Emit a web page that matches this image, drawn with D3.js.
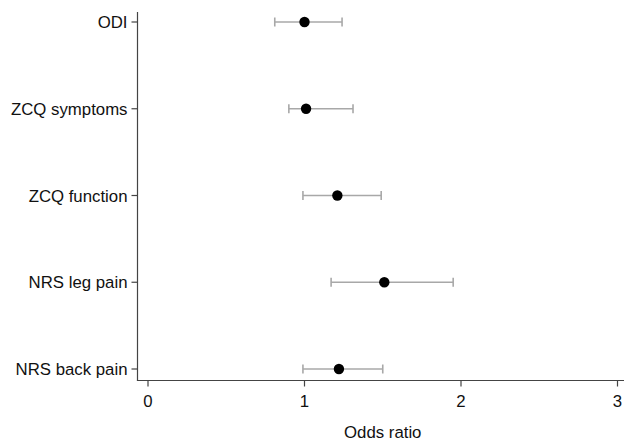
<!DOCTYPE html>
<html>
<head>
<meta charset="utf-8">
<script src="https://cdn.jsdelivr.net/npm/d3@7"></script>
<style>
  body { margin: 0; background: #fff; }
  svg { display: block; font-family: "Liberation Sans", Arial, sans-serif; }
</style>
</head>
<body>
<div id="chart"></div>
<script>
// outcome measures, top to bottom
const outcomes = ["ODI", "ZCQ symptoms", "ZCQ function", "NRS leg pain", "NRS back pain"];
const oddsRatio = [1.00, 1.01, 1.21, 1.51, 1.22];
const ciLow = [0.81, 0.90, 0.99, 1.17, 0.99];
const ciHigh = [1.24, 1.31, 1.49, 1.95, 1.50];
const xTicks = [0, 1, 2, 3];

const width = 624, height = 442;

const svg = d3.select("#chart")
  .append("svg")
  .attr("width", width)
  .attr("height", height);

// scales
const x = d3.scaleLinear().domain([0, 3]).range([148, 617.5]);
const y = d3.scalePoint().domain(outcomes).range([22, 369]);

const axisColor = "#444";
const axisLeft = 137.5, axisBottom = 380.5;

// y axis
const gy = svg.append("g").attr("transform", `translate(${axisLeft},0)`);
gy.append("line")
  .attr("y1", 12).attr("y2", axisBottom)
  .attr("stroke", axisColor).attr("stroke-width", 1.2);
gy.selectAll("line.tick")
  .data(outcomes)
  .enter()
  .append("line")
  .attr("class", "tick")
  .attr("x1", -6).attr("x2", 0)
  .attr("y1", d => y(d)).attr("y2", d => y(d))
  .attr("stroke", axisColor).attr("stroke-width", 1.2);
gy.selectAll("text")
  .data(outcomes)
  .enter()
  .append("text")
  .attr("x", -10)
  .attr("y", d => y(d))
  .attr("dy", "0.36em")
  .attr("text-anchor", "end")
  .attr("font-size", "16.8px")
  .attr("fill", "#111")
  .text(d => d);

// x axis
const gx = svg.append("g").attr("transform", `translate(0,${axisBottom})`);
gx.append("line")
  .attr("x1", axisLeft - 0.6).attr("x2", width)
  .attr("stroke", axisColor).attr("stroke-width", 1.2);
gx.selectAll("line.tick")
  .data(xTicks)
  .enter()
  .append("line")
  .attr("class", "tick")
  .attr("x1", d => x(d)).attr("x2", d => x(d))
  .attr("y1", 0).attr("y2", 6)
  .attr("stroke", axisColor).attr("stroke-width", 1.2);
gx.selectAll("text")
  .data(xTicks)
  .enter()
  .append("text")
  .attr("x", d => x(d))
  .attr("y", 26.5)
  .attr("text-anchor", "middle")
  .attr("font-size", "16.8px")
  .attr("fill", "#111")
  .text(d => d);

svg.append("text")
  .attr("x", (x(0) + x(3)) / 2)
  .attr("y", 438)
  .attr("text-anchor", "middle")
  .attr("font-size", "16.8px")
  .attr("fill", "#111")
  .text("Odds ratio");

// confidence intervals
const ciColor = "#a8a8a8";
const rows = outcomes.map((o, i) => ({ name: o, or: oddsRatio[i], lo: ciLow[i], hi: ciHigh[i] }));

const ci = svg.append("g").attr("class", "ci");
ci.selectAll("line.bar")
  .data(rows)
  .enter()
  .append("line")
  .attr("class", "bar")
  .attr("x1", d => x(d.lo)).attr("x2", d => x(d.hi))
  .attr("y1", d => y(d.name)).attr("y2", d => y(d.name))
  .attr("stroke", ciColor).attr("stroke-width", 1.6);
["lo", "hi"].forEach(k => {
  ci.selectAll("line.cap-" + k)
    .data(rows)
    .enter()
    .append("line")
    .attr("class", "cap-" + k)
    .attr("x1", d => x(d[k])).attr("x2", d => x(d[k]))
    .attr("y1", d => y(d.name) - 4.5).attr("y2", d => y(d.name) + 4.5)
    .attr("stroke", ciColor).attr("stroke-width", 1.6);
});

// point estimates
svg.append("g")
  .selectAll("circle")
  .data(rows)
  .enter()
  .append("circle")
  .attr("cx", d => x(d.or))
  .attr("cy", d => y(d.name))
  .attr("r", 5.2)
  .attr("fill", "#000");
</script>
</body>
</html>
